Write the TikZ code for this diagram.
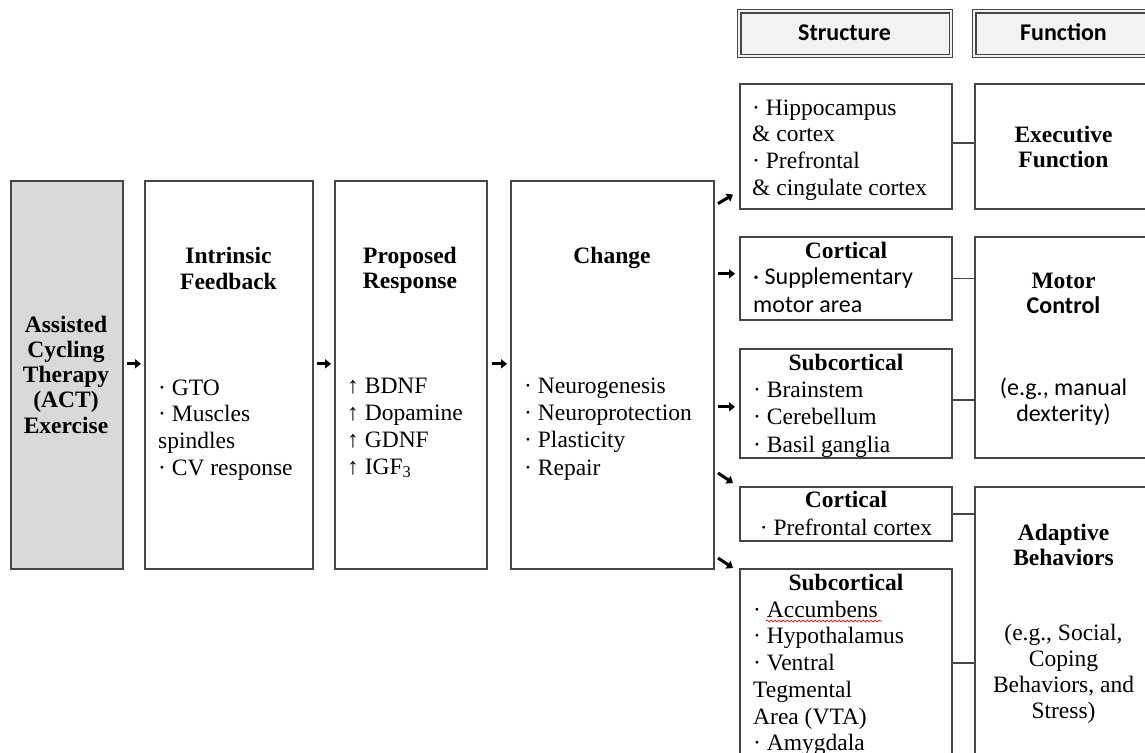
\documentclass[tikz,border=0pt]{standalone}
\usepackage{fontspec}
\setmainfont{Liberation Serif}
\newfontfamily\calfont{Carlito}
\usetikzlibrary{arrows.meta,decorations.pathmorphing}
\definecolor{actfill}{RGB}{217,217,217}
\definecolor{hdrfill}{RGB}{242,242,242}
\definecolor{edgec}{RGB}{70,70,70}
\newcommand\fsz[2]{\fontsize{#1}{#2}\selectfont}
\begin{document}
\begin{tikzpicture}[x=1pt,y=-1pt,
  box/.style={draw=edgec, line width=1.6pt, fill=white, inner sep=0pt, anchor=north west},
  txt/.style={inner sep=0pt, text=black},
  arr/.style={line width=3pt, black, -{Triangle[length=6pt,width=9pt]}},
  link/.style={draw=edgec, line width=1.4pt}]
\useasboundingbox (0,0) rectangle (1145,752);
\clip (0,0) rectangle (1145,752);
\fill[white] (0,0) rectangle (1145,752);

% left chain
\node[box, fill=actfill, minimum width=112pt, minimum height=388pt] (act) at (10,180) {};
\node[box, minimum width=168pt, minimum height=388pt] (intr) at (144,180) {};
\node[box, minimum width=152pt, minimum height=388pt] (prop) at (334,180) {};
\node[box, minimum width=203pt, minimum height=388pt] (chg) at (510,180) {};

\node[txt, anchor=north, align=center, font=\fsz{23.5}{25.2}\bfseries] (actT) at (66,314.4) {\strut Assisted\\Cycling\\Therapy\\(ACT)\\Exercise};
\node[txt, anchor=north, align=center, font=\fsz{23.5}{26}\bfseries] (intrT) at (228.5,244.8) {\strut Intrinsic\\Feedback};
\node[txt, anchor=north west, align=left, font=\fsz{23.5}{26.7}] (intrI) at (158,376.3) {\strut · GTO\\· Muscles\\spindles\\· CV response};
\node[txt, anchor=north, align=center, font=\fsz{23.5}{25}\bfseries] (propT) at (410,245.5) {\strut Proposed\\Response};
\node[txt, anchor=north west, align=left, font=\fsz{23.5}{27}] (propI) at (347,374.1) {\strut ↑ BDNF\\↑ Dopamine\\↑ GDNF\\↑ IGF\textsubscript{3}};
\node[txt, anchor=north, align=center, font=\fsz{23.5}{26.8}\bfseries] (chgT) at (612,244.3) {\strut Change};
\node[txt, anchor=north west, align=left, font=\fsz{23.5}{27.4}] (chgI) at (524,373.8) {\strut · Neurogenesis\\· Neuroprotection\\· Plasticity\\· Repair};

\draw[arr] ([xshift=3pt,yshift=11pt]act.east) -- ([xshift=-3pt,yshift=11pt]intr.west);
\draw[arr] ([xshift=3pt,yshift=11pt]intr.east) -- ([xshift=-3pt,yshift=11pt]prop.west);
\draw[arr] ([xshift=4pt,yshift=11pt]prop.east) -- ([xshift=-3pt,yshift=11pt]chg.west);

% headers
\node[box, fill=hdrfill, line width=1.3pt, minimum width=215pt, minimum height=48pt] (hs) at (737,9) {};
\draw[edgec, line width=1.2pt] ([shift={(4pt,-4pt)}]hs.north west) rectangle ([shift={(-4pt,4pt)}]hs.south east);
\node[box, fill=hdrfill, line width=1.3pt, minimum width=215pt, minimum height=48pt] (hf) at (972,9) {};
\draw[edgec, line width=1.2pt] ([shift={(4pt,-4pt)}]hf.north west) rectangle ([shift={(-4pt,4pt)}]hf.south east);
\node[txt, anchor=base, font=\calfont\fsz{24}{28}\bfseries] (hsT) at (844.5,41) {Structure};
\node[txt, anchor=base, font=\calfont\fsz{24}{28}\bfseries] (hfT) at (1063.5,41) {Function};

% structure boxes
\node[box, minimum width=212pt, minimum height=125pt] (s1) at (739,83) {};
\node[box, minimum width=212pt, minimum height=83pt] (s2) at (739,236) {};
\node[box, minimum width=212pt, minimum height=109pt] (s3) at (739,348) {};
\node[box, minimum width=212pt, minimum height=54pt] (s4) at (739,486) {};
\node[box, minimum width=212pt, minimum height=232pt] (s5) at (739,568) {};

\node[txt, anchor=north west, align=left, font=\fsz{23.5}{26.7}] (s1I) at (752,96.3) {\strut · Hippocampus\\\& cortex\\· Prefrontal\\\& cingulate cortex};
\node[txt, anchor=base, font=\fsz{23.5}{26.8}\bfseries] (s2T) at (846,258) {Cortical};
\node[txt, anchor=north west, align=left, font=\calfont\fsz{24}{28}] (s2I) at (753,264.4) {\strut · Supplementary\\motor area};
\node[txt, anchor=base, font=\fsz{23.5}{26.8}\bfseries] (s3T) at (846,370) {Subcortical};
\node[txt, anchor=north west, align=left, font=\fsz{23.5}{27.5}] (s3I) at (753,377.8) {\strut · Brainstem\\· Cerebellum\\· Basil ganglia};
\node[txt, anchor=north, align=center, font=\fsz{23.5}{28}] (s4T) at (846,487.4) {\strut\textbf{Cortical}\\· Prefrontal cortex};
\node[txt, anchor=base, font=\fsz{23.5}{26.8}\bfseries] (s5T) at (846,590) {Subcortical};
\node[txt, anchor=north west, align=left, font=\fsz{23.5}{26.7}] (s5I) at (753,598.3) {\strut · Accumbens\\· Hypothalamus\\· Ventral\\Tegmental\\Area (VTA)\\· Amygdala};
\draw[red, line width=0.7pt, decorate, decoration={snake, amplitude=0.9pt, segment length=4pt}] (766,621) -- (882,621);

% function boxes
\node[box, minimum width=200pt, minimum height=125pt] (f1) at (974,83) {};
\node[box, minimum width=200pt, minimum height=221pt] (f2) at (974,236) {};
\node[box, minimum width=200pt, minimum height=314pt] (f3) at (974,486) {};

\node[txt, anchor=north, align=center, font=\fsz{23.5}{25.5}\bfseries] (f1T) at (1063.5,124.2) {\strut Executive\\Function};
\node[txt, anchor=base, font=\fsz{23.5}{26.8}\bfseries] (f2Ta) at (1063.5,288) {Motor};
\node[txt, anchor=base, font=\calfont\fsz{24}{28}\bfseries] (f2Tb) at (1063.5,313) {Control};
\node[txt, anchor=north, align=center, font=\calfont\fsz{24}{25}] (f2I) at (1063.5,377.5) {\strut (e.g., manual\\dexterity)};
\node[txt, anchor=north, align=center, font=\fsz{23.5}{25}\bfseries] (f3T) at (1063.5,522.5) {\strut Adaptive\\Behaviors};
\node[txt, anchor=north, align=center, font=\fsz{23.5}{26}] (f3I) at (1063.5,621.8) {\strut (e.g., Social,\\Coping\\Behaviors, and\\Stress)};

% arrows from Change to structures
\draw[arr] ([xshift=-21pt,yshift=6pt]s1.south west) -- ([xshift=-6pt,yshift=15pt]s1.south west);
\draw[arr] ([xshift=-21pt,yshift=4.5pt]s2.west) -- ([xshift=-4pt,yshift=4.5pt]s2.west);
\draw[arr] ([xshift=-21pt,yshift=-3.5pt]s3.west) -- ([xshift=-4pt,yshift=-3.5pt]s3.west);
\draw[arr] ([xshift=-21pt,yshift=13pt]s4.north west) -- ([xshift=-6pt,yshift=3pt]s4.north west);
\draw[arr] ([xshift=-21pt,yshift=10pt]s5.north west) -- ([xshift=-6pt,yshift=0pt]s5.north west);

% structure to function links
\draw[link] ([yshift=3.5pt]s1.east) -- ([yshift=3.5pt]f1.west);
\draw[link] (s2.east) -- (s2.east -| f2.west);
\path ([yshift=3.5pt]s3.east) coordinate (c3);
\draw[link] (c3) -- (c3 -| f2.west);
\draw[link] (s4.east) -- (s4.east -| f3.west);
\path ([yshift=-95pt]s5.north east) coordinate (c5);
\draw[link] (c5) -- (c5 -| f3.west);
\end{tikzpicture}
\end{document}
